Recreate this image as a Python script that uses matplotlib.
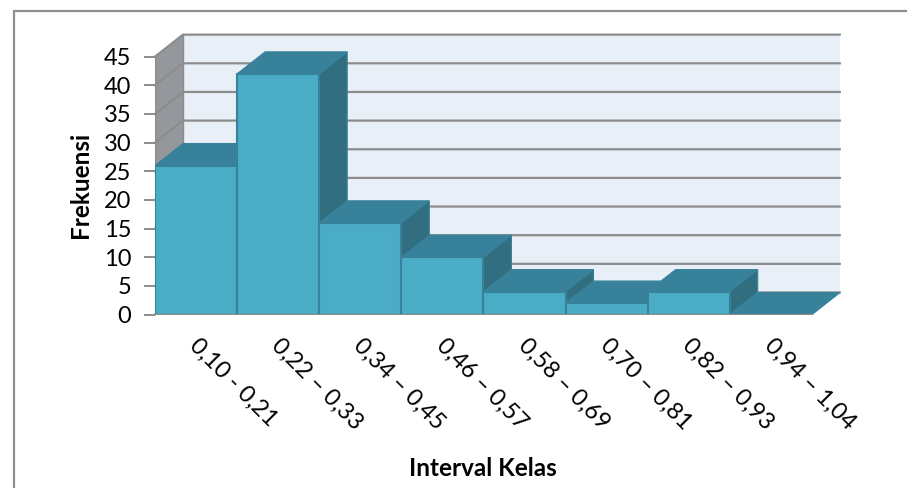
import matplotlib
matplotlib.use('Agg')
import matplotlib.pyplot as plt
from matplotlib.lines import Line2D
from matplotlib.patches import Polygon
from matplotlib.transforms import ScaledTranslation

categories = ['0,10 - 0,21', '0,22 – 0,33', '0,34 – 0,45', '0,46 – 0,57',
              '0,58 – 0,69', '0,70 – 0,81', '0,82 – 0,93', '0,94 – 1,04']
frekuensi = [26, 42, 16, 10, 4, 2, 4, 0]
y_ticks = [0, 5, 10, 15, 20, 25, 30, 35, 40, 45]

FRONT = '#4bacc6'
TOP = '#37829a'
SIDE = '#316e80'
EDGE = '#37829a'
WALL = '#e8eff6'
SIDE_WALL = '#94989d'
GRID = '#8c8c8c'

# depth offset of the fake 3d box, in data units
DX = 28 / 82.1
DY = 22 / 5.73

plt.rcParams['font.family'] = ['Lato', 'DejaVu Sans']

fig = plt.figure(figsize=(9.07, 4.88), dpi=100)
W, H = 907, 488
ax = fig.add_axes([155 / W, (H - 314.5) / H, (842 - 155) / W, (314 - 30) / H])
ax.set_xlim(0, (842 - 155) / 82.1)
ax.set_ylim(0, (314 - 30) / 5.73)
ax.patch.set_alpha(0)
for s in ax.spines.values():
    s.set_visible(False)

n = len(categories)
ymax = y_ticks[-1]

# outer chart frame, only left and top are inside the crop
fig.add_artist(Line2D([13.5 / W, 13.5 / W, 1], [0, 1 - 10.5 / H, 1 - 10.5 / H],
                      color='#8e8e8e', linewidth=1.6, solid_joinstyle='miter'))

# back wall and side wall
ax.add_patch(Polygon([(DX, DY), (n + DX, DY), (n + DX, ymax + DY), (DX, ymax + DY)],
                     facecolor=WALL, edgecolor='none', zorder=1))
ax.add_patch(Polygon([(0, 0), (DX, DY), (DX, ymax + DY), (0, ymax)],
                     facecolor=SIDE_WALL, edgecolor='none', zorder=1))

# gridlines along side and back wall
for t in y_ticks:
    ax.plot([0, DX, n + DX], [t, t + DY, t + DY], color=GRID, lw=1.6,
            zorder=2, solid_joinstyle='miter', clip_on=False)
ax.plot([0, 0], [0, ymax], color=GRID, lw=1.6, zorder=2)
ax.plot([DX, DX], [DY, ymax + DY], color=GRID, lw=1, zorder=2)

# bar faces: sides first, then tops, then fronts
for i, v in enumerate(frekuensi):
    z = 3 + i * 0.01
    ax.add_patch(Polygon([(i + 1, 0), (i + 1 + DX, DY), (i + 1 + DX, v + DY), (i + 1, v)],
                         facecolor=SIDE, edgecolor=EDGE, lw=0.8, zorder=z))
for i, v in enumerate(frekuensi):
    z = 3.5 + i * 0.01
    ax.add_patch(Polygon([(i, v), (i + 1, v), (i + 1 + DX, v + DY), (i + DX, v + DY)],
                         facecolor=TOP, edgecolor=EDGE, lw=0.8, zorder=z))
for i, v in enumerate(frekuensi):
    ax.bar(i + 0.5, v, width=1, color=FRONT, edgecolor=EDGE, linewidth=1.5, zorder=4)

ax.plot([0, n], [0, 0], color=GRID, lw=1.6, zorder=5)

ax.set_yticks(y_ticks)
ax.set_yticklabels([str(t) for t in y_ticks], fontsize=17, color='black')
ax.tick_params(axis='y', length=8, width=1.4, color=GRID, pad=9)

ax.set_xticks([i + 0.5 for i in range(n)])
ax.set_xticklabels(categories, rotation=-45, ha='left', va='center',
                   rotation_mode='anchor', fontsize=17, color='black')
ax.tick_params(axis='x', length=0, pad=20)
shift = ScaledTranslation(-3 / 100, 0, fig.dpi_scale_trans)
for lab in ax.get_xticklabels():
    lab.set_transform(lab.get_transform() + shift)

fig.text(81 / W, 1 - 185 / H, 'Frekuensi', rotation=90, ha='center', va='center',
         fontsize=17.5, fontweight='bold')
fig.text(483 / W, 1 - 468 / H, 'Interval Kelas', ha='center', va='center',
         fontsize=17.5, fontweight='bold')

fig.savefig('out.png', dpi=100)
